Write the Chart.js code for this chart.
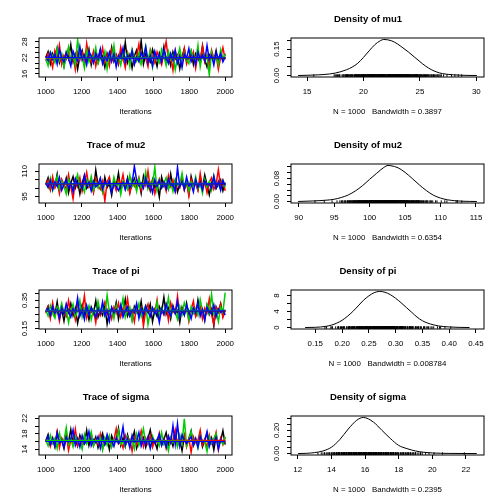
<!DOCTYPE html>
<html><head><meta charset="utf-8">
<script src="https://cdn.jsdelivr.net/npm/chart.js@4.4.0/dist/chart.umd.min.js"></script>
<style>
html,body{margin:0;padding:0;background:#fff;width:504px;height:504px;overflow:hidden}
canvas{position:absolute}
</style></head><body>
<script>
// ---------- data ----------
const iterStart = 1000, iterEnd = 2000;
const traceXTicks = [1000, 1200, 1400, 1600, 1800, 2000];
const traceXLabels = ['1000', '1200', '1400', '1600', '1800', '2000'];

const mu1_black = [22.1,24.3,19.8,23.5,21.0,25.6,20.2,22.8,18.9,24.1, 21.7,26.9,20.5,23.2,17.8,22.6,24.8,20.9,21.3,25.2, 19.4,23.9,21.8,20.1,24.6,22.3,18.5,23.7,21.2,25.9, 20.7,22.9,19.6,24.4,21.5,27.8,20.3,23.1,18.2,22.7, 24.9,21.1,28.4,19.7,23.4,21.9,20.4,25.1,22.2,18.8, 23.8,21.4,26.2,20.6,22.5,19.2,24.2,21.6,23.0,17.9, 22.4,25.4,20.8,21.9,24.5,19.5,23.6,22.0,20.0,26.5, 21.3,18.6,23.3,22.6,20.9,24.7,19.9,22.8,21.1,23.5];
const mu1_red = [20.8,23.6,21.9,18.4,24.7,22.2,26.8,19.6,23.0,21.5, 25.3,20.0,22.7,17.6,24.0,21.2,23.8,19.3,27.4,22.5, 20.6,24.4,18.9,23.1,21.7,25.7,20.3,22.9,19.0,24.8, 21.4,23.3,20.2,26.0,22.1,18.3,23.9,21.0,24.5,19.8, 22.6,27.1,20.5,23.4,21.8,18.7,25.0,22.3,20.1,24.2, 21.6,19.4,23.7,28.1,21.1,22.8,17.4,24.6,20.7,23.2, 21.3,25.5,19.7,22.4,20.9,24.1,18.1,23.5,21.5,26.3, 20.4,22.9,19.2,24.9,21.8,23.0,17.7,22.2,25.8,21.4];
const mu1_green = [21.5,19.0,24.2,22.8,20.3,25.4,21.1,23.6,18.6,22.4, 26.1,20.8,23.3,19.5,28.7,21.9,22.6,18.2,24.7,20.5, 23.0,21.7,25.8,19.9,22.2,20.6,24.3,17.9,23.5,21.3, 26.6,20.0,22.9,19.3,24.0,21.6,23.7,18.8,25.1,22.0, 20.7,23.9,19.6,22.5,26.4,21.0,24.6,18.5,23.2,21.8, 20.2,25.2,22.7,19.1,24.4,21.4,23.1,17.5,22.3,25.6, 20.4,23.8,21.2,19.8,24.8,22.1,20.9,26.7,18.7,23.4, 21.6,22.8,15.6,24.1,20.6,22.9,19.4,25.0,21.7,23.3];
const mu1_blue = [22.6,20.9,24.0,21.4,23.3,19.7,25.1,22.0,20.5,23.8, 21.7,18.9,24.5,22.3,20.8,26.2,21.2,23.1,19.4,24.3, 22.7,20.1,23.6,21.5,25.3,19.8,22.4,21.0,24.1,20.6, 23.5,18.6,22.9,21.8,25.7,20.3,23.0,21.3,24.6,19.5, 22.2,20.7,23.9,21.9,26.0,20.2,22.8,19.0,24.4,21.6, 23.2,20.4,25.0,22.1,19.9,23.7,21.1,24.8,20.0,22.5, 18.4,23.4,21.8,25.5,20.6,22.7,19.6,24.2,21.5,23.1, 20.8,26.6,21.3,22.9,19.3,24.0,21.7,23.6,20.5,22.3];
const mu1_smooth = {black:[22.1,22.0,22.2,22.0,21.9], red:[21.9,22.1,22.0,22.1,22.0], green:[22.0,21.9,22.1,22.0,22.1], blue:[22.2,22.0,21.9,22.1,22.0]};

const mu2_black = [102.4,106.1,99.3,104.8,101.0,108.2,98.6,103.5,100.7,105.9, 97.2,102.9,106.8,100.1,104.2,96.5,103.1,107.4,99.8,102.0, 105.3,98.1,110.6,101.6,103.9,97.9,106.4,100.4,102.7,95.8, 104.5,101.3,108.9,99.0,103.3,100.9,106.0,97.5,102.2,105.6, 99.6,104.0,96.9,107.1,101.8,103.7,98.4,105.1,100.2,102.6, 94.7,106.5,101.1,103.0,99.4,108.4,100.6,104.7,97.7,102.5, 105.8,99.1,103.6,96.2,106.9,101.4,102.8,98.8,104.3,100.0, 107.7,101.9,96.0,103.4,105.4,99.7,102.1,104.9,98.3,103.2];
const mu2_red = [101.7,104.6,98.9,106.7,100.3,103.8,96.8,105.2,102.0,99.5, 107.9,101.2,93.6,104.4,100.8,106.2,98.0,103.0,109.3,100.5, 102.3,97.3,105.7,101.5,99.2,104.1,92.3,103.6,106.6,100.0, 102.8,98.5,105.0,101.9,108.0,99.7,103.2,97.0,104.9,100.9, 102.5,106.3,98.7,103.9,101.3,110.1,99.9,104.3,96.6,102.1, 105.5,100.4,103.4,98.2,107.3,101.0,104.7,97.8,102.6,100.2, 106.8,99.0,103.7,95.4,105.3,101.6,102.9,98.6,108.6,100.7, 104.0,97.1,103.3,106.1,99.3,102.4,110.9,100.6,104.5,98.4];
const mu2_green = [103.0,100.2,105.8,98.4,102.7,107.0,99.5,104.1,101.1,96.4, 105.4,102.3,99.8,103.6,108.1,100.6,102.0,97.6,104.8,101.4, 106.9,98.9,103.4,100.0,105.2,97.4,102.8,101.7,104.5,99.1, 106.5,100.8,103.1,96.1,104.0,102.5,99.3,107.6,101.0,103.8, 98.0,105.6,100.3,102.2,109.5,99.6,103.5,101.8,112.4,98.6, 104.6,100.1,102.9,106.2,99.4,103.3,97.9,105.0,101.5,102.4, 108.7,100.4,104.2,98.2,103.7,101.2,106.7,99.7,102.6,96.9, 105.1,100.9,103.9,98.8,107.2,101.3,102.1,99.2,104.4,100.5];
const mu2_blue = [102.9,100.5,104.7,99.2,103.6,101.0,106.3,98.7,102.4,104.9, 100.0,103.1,97.8,105.5,101.6,102.8,99.6,107.5,101.2,103.4, 98.3,104.0,100.7,102.1,105.9,99.4,103.8,101.5,104.3,97.5, 102.6,100.9,98.5,101.8,103.2,99.0,105.0,100.3,102.7,113.0, 104.6,101.4,103.0,99.8,106.0,100.6,102.3,97.2,104.8,101.1, 104.4,100.1,103.5,99.5,105.3,101.7,102.0,98.1,112.2,100.8, 103.7,99.3,106.6,101.3,102.5,97.7,105.1,100.4,103.3,98.9, 104.1,101.9,102.2,99.9,107.0,100.2,103.9,98.6,104.5,101.5];
const mu2_smooth = {black:[102.6,102.5,102.7,102.6,102.5], red:[102.4,102.6,102.5,102.7,102.6], green:[102.7,102.6,102.5,102.6,102.7], blue:[102.5,102.6,102.6,102.5,102.6]};

const pi_black = [0.272,0.308,0.234,0.291,0.247,0.338,0.223,0.284,0.203,0.297, 0.262,0.327,0.241,0.293,0.188,0.269,0.318,0.254,0.281,0.212, 0.302,0.259,0.346,0.231,0.276,0.244,0.313,0.182,0.268,0.289, 0.253,0.334,0.217,0.301,0.263,0.357,0.238,0.279,0.214,0.306, 0.271,0.248,0.342,0.226,0.287,0.264,0.323,0.198,0.283,0.236, 0.304,0.267,0.371,0.252,0.294,0.219,0.311,0.257,0.278,0.193, 0.298,0.246,0.329,0.233,0.273,0.292,0.242,0.352,0.261,0.286, 0.208,0.314,0.249,0.288,0.171,0.303,0.266,0.326,0.239,0.282];
const pi_red = [0.258,0.303,0.221,0.332,0.246,0.284,0.204,0.309,0.272,0.237, 0.348,0.263,0.291,0.213,0.318,0.252,0.277,0.382,0.229,0.299, 0.264,0.273,0.192,0.312,0.243,0.288,0.337,0.254,0.281,0.218, 0.301,0.259,0.328,0.234,0.293,0.268,0.361,0.242,0.276,0.197, 0.311,0.251,0.296,0.168,0.274,0.322,0.238,0.287,0.262,0.353, 0.224,0.279,0.247,0.314,0.209,0.331,0.269,0.256,0.378,0.232, 0.289,0.253,0.304,0.201,0.283,0.343,0.236,0.271,0.307,0.219, 0.294,0.261,0.359,0.248,0.181,0.298,0.267,0.321,0.228,0.277];
const pi_green = [0.281,0.239,0.312,0.257,0.224,0.303,0.268,0.329,0.251,0.286, 0.193,0.277,0.322,0.236,0.272,0.347,0.232,0.294,0.258,0.309, 0.213,0.284,0.249,0.341,0.266,0.298,0.243,0.384,0.262,0.291, 0.221,0.313,0.254,0.273,0.362,0.228,0.279,0.302,0.204,0.288, 0.261,0.326,0.237,0.282,0.311,0.179,0.267,0.293,0.252,0.338, 0.233,0.297,0.259,0.276,0.368,0.241,0.287,0.269,0.216,0.308, 0.248,0.332,0.283,0.211,0.304,0.256,0.291,0.244,0.354,0.274, 0.227,0.316,0.263,0.392,0.253,0.278,0.199,0.301,0.268,0.403];
const pi_blue = [0.268,0.293,0.242,0.307,0.259,0.284,0.223,0.298,0.251,0.326, 0.274,0.231,0.289,0.262,0.366,0.238,0.281,0.214,0.312,0.247, 0.296,0.271,0.229,0.292,0.257,0.338,0.243,0.279,0.203,0.301, 0.263,0.287,0.254,0.318,0.232,0.276,0.304,0.239,0.283,0.261, 0.327,0.222,0.291,0.248,0.309,0.267,0.234,0.297,0.256,0.282, 0.194,0.288,0.252,0.323,0.269,0.241,0.302,0.258,0.343,0.228, 0.277,0.246,0.314,0.272,0.219,0.294,0.261,0.331,0.237,0.284, 0.212,0.299,0.266,0.253,0.317,0.233,0.289,0.264,0.279,0.245];
const pi_smooth = {black:[0.275,0.274,0.276,0.275,0.274], red:[0.273,0.275,0.274,0.276,0.275], green:[0.276,0.275,0.277,0.276,0.278], blue:[0.274,0.275,0.275,0.274,0.275]};

const sigma_black = [16.2,17.8,15.1,16.9,14.6,18.4,15.7,16.5,14.2,17.3, 15.9,19.1,15.3,16.7,14.8,17.6,16.0,15.4,18.9,14.9, 16.8,15.6,17.2,14.4,16.3,18.1,15.2,16.6,13.9,17.5, 15.8,16.1,19.4,15.0,16.9,14.7,17.7,15.5,16.4,18.6, 14.3,16.2,15.9,17.0,14.5,16.8,19.0,15.6,16.0,14.1, 17.4,15.3,16.5,18.3,15.1,16.7,14.8,17.9,15.7,16.3, 13.6,17.1,15.4,16.6,18.7,14.9,16.2,15.8,17.6,14.6, 16.4,18.2,15.0,16.9,13.8,17.3,15.5,16.1,18.8,15.2];
const sigma_red = [15.8,17.2,14.7,16.6,15.3,18.5,14.4,16.9,15.9,17.7, 13.7,16.3,15.5,19.2,15.0,16.7,14.6,17.4,15.7,16.1, 18.0,14.9,16.5,15.2,17.9,14.1,16.8,15.6,17.1,14.8, 16.4,19.3,15.4,16.0,14.3,17.6,15.9,16.6,13.5,17.0, 15.1,16.2,18.7,14.7,16.9,15.3,17.5,14.5,16.3,15.8, 18.2,15.0,16.7,14.2,17.3,15.6,16.4,19.0,14.9,16.1, 15.5,17.8,14.6,16.8,13.2,17.2,15.7,16.3,18.9,15.1, 16.6,14.4,17.7,15.4,16.0,18.4,13.9,16.9,15.2,17.1];
const sigma_green = [16.4,14.9,17.6,15.5,16.8,14.2,18.1,15.8,16.3,19.6, 15.2,16.7,14.6,17.3,15.9,16.1,14.0,17.8,15.4,16.6, 18.5,14.8,16.2,15.7,17.0,13.8,16.9,15.1,17.5,14.5, 16.4,15.9,18.8,15.3,16.0,14.7,17.2,15.6,16.5,14.1, 17.9,15.0,16.8,19.3,15.4,16.2,14.4,17.4,15.8,16.6, 14.9,18.3,15.2,16.1,13.6,17.1,15.7,16.9,14.6,17.7, 15.5,21.9,14.8,16.4,18.6,15.1,16.7,14.3,17.5,15.9, 16.0,13.4,17.3,15.6,16.8,18.0,14.7,16.3,15.3,17.2];
const sigma_blue = [16.0,17.4,15.2,16.7,14.8,18.2,15.6,16.3,14.5,17.1, 15.9,16.6,19.0,15.0,16.8,14.6,17.5,15.4,16.2,18.6, 14.9,16.5,15.7,17.3,14.3,16.9,15.3,17.8,15.8,16.1, 14.7,17.0,15.5,16.4,19.8,15.1,16.7,14.4,17.6,15.9, 16.0,18.3,14.8,16.6,15.2,17.2,14.2,16.8,15.6,16.3, 17.9,15.0,16.5,14.6,17.4,15.7,20.1,15.3,20.6,14.9, 17.7,16.2,15.5,16.4,17.2,15.1,16.8,14.5,17.3,15.8, 16.1,18.5,14.7,16.6,15.4,17.0,14.0,16.5,15.9,16.3];
const sigma_smooth = {black:[16.1,16.1,16.0,16.1,16.1], red:[16.0,16.1,16.2,16.3,16.3], green:[16.3,16.3,16.2,16.1,16.0], blue:[16.0,16.0,16.1,16.0,16.0]};

// density curves
const mu1_densX = [14.21,15,16,17,17.5,18,18.5,19,19.5,20,20.5,21,21.5,21.8,22.5,23,23.5,24,24.5,25,25.5,26,26.5,27,28,29,30.05];
const mu1_densY = [0.0003,0.0015,0.004,0.009,0.014,0.022,0.033,0.048,0.070,0.103,0.140,0.175,0.198,0.205,0.197,0.180,0.157,0.133,0.106,0.079,0.054,0.034,0.020,0.011,0.004,0.0012,0.0003];
const mu2_densX = [89.92,92,94,95,96,97,98,99,100,101,102,102.6,103,104,105,106,107,108,109,110,111,112,113,115.12];
const mu2_densY = [0.0003,0.002,0.005,0.008,0.014,0.023,0.037,0.055,0.077,0.098,0.118,0.125,0.124,0.117,0.101,0.080,0.058,0.038,0.022,0.012,0.006,0.003,0.0012,0.0002];
const pi_densX = [0.131,0.15,0.17,0.18,0.19,0.20,0.21,0.22,0.23,0.24,0.25,0.26,0.27,0.28,0.29,0.30,0.31,0.32,0.33,0.34,0.35,0.36,0.37,0.38,0.40,0.42,0.438];
const pi_densY = [0.01,0.06,0.3,0.6,1.1,1.8,2.8,4.0,5.4,6.8,7.9,8.7,9.0,8.8,8.2,7.3,6.2,5.0,3.8,2.6,1.7,1.1,0.7,0.4,0.15,0.04,0.01];
const sigma_densX = [12.02,12.5,13,13.5,14,14.5,15,15.5,15.9,16.5,17,17.5,18,18.5,19,19.5,20,21,22,22.64];
const sigma_densY = [0.0002,0.002,0.008,0.022,0.054,0.12,0.21,0.285,0.31,0.27,0.20,0.13,0.07,0.042,0.022,0.011,0.005,0.0012,0.0003,0.0001];

const bandwidths = {mu1:'0.3897', mu2:'0.6354', pi:'0.008784', sigma:'0.2395'};
const nIter = 1000;

// axis ticks
const mu1_traceY = {min:14.84, max:29.42, ticks:[16,18,20,22,24,26,28], labels:['16','','','22','','','28']};
const mu2_traceY = {min:91.1, max:114.3, ticks:[95,100,105,110], labels:['95','','','110']};
const pi_traceY = {min:0.147, max:0.422, ticks:[0.15,0.20,0.25,0.30,0.35,0.40], labels:['0.15','','','','0.35','']};
const sigma_traceY = {min:12.5, max:22.6, ticks:[14,16,18,20,22], labels:['14','','18','','22']};

const mu1_densAxX = {min:13.58, max:30.68, ticks:[15,20,25,30], labels:['15','20','25','30']};
const mu2_densAxX = {min:88.91, max:116.13, ticks:[90,95,100,105,110,115], labels:['90','95','100','105','110','115']};
const pi_densAxX = {min:0.1046, max:0.465, ticks:[0.15,0.20,0.25,0.30,0.35,0.40,0.45], labels:['0.15','0.20','0.25','0.30','0.35','0.40','0.45']};
const sigma_densAxX = {min:11.6, max:23.07, ticks:[12,14,16,18,20,22], labels:['12','14','16','18','20','22']};

const mu1_densAxY = {min:-0.0082, max:0.2132, ticks:[0,0.05,0.10,0.15,0.20], labels:['0.00','','','0.15','']};
const mu2_densAxY = {min:-0.005, max:0.130, ticks:[0,0.02,0.04,0.06,0.08,0.10,0.12], labels:['0.00','','','','0.08','','']};
const pi_densAxY = {min:-0.36, max:9.36, ticks:[0,2,4,6,8], labels:['0','','4','','8']};
const sigma_densAxY = {min:-0.0124, max:0.3224, ticks:[0,0.05,0.10,0.15,0.20,0.25,0.30], labels:['0.00','','','','0.20','','']};

// ---------- drawing ----------
const FONT = '"Liberation Sans", Arial, Helvetica, sans-serif';
const AX = 7.92, TT = 9.5;
const chainColors = {black:'#000000', red:'#FF0000', green:'#00CD00', blue:'#0000FF'};

function measure(t){const c=document.createElement('canvas').getContext('2d');c.font=AX+'px '+FONT;return c.measureText(t).width;}

const boxPlugin = {id:'rbox', afterDraw(chart){
  const {ctx, chartArea:a} = chart;
  ctx.save(); ctx.strokeStyle='#000'; ctx.lineWidth=1;
  ctx.strokeRect(a.left, a.top, a.right-a.left, a.bottom-a.top);
  ctx.restore();
}};

function makeChart(col, row, o){
  const cv = document.createElement('canvas');
  cv.width = 252; cv.height = 126;
  cv.style.left = (col*252)+'px'; cv.style.top = (row*126)+'px';
  document.body.appendChild(cv);
  const widest = Math.max(...o.y.labels.map(measure));
  new Chart(cv, {
    type:'line',
    data:{datasets:o.datasets},
    plugins:[boxPlugin],
    options:{
      responsive:false, animation:false, devicePixelRatio:1,
      layout:{padding:{left:0,right:20,top:0,bottom:0}},
      plugins:{legend:{display:false}, tooltip:{enabled:false},
        title:{display:true, text:o.title, color:'#000', font:{family:FONT,size:TT,weight:'bold',lineHeight:1.2}, padding:{top:13.3,bottom:13.3}}},
      scales:{
        x:{type:'linear', min:o.x.min, max:o.x.max,
          afterBuildTicks:s=>{s.ticks=o.x.ticks.map(v=>({value:v}));},
          afterFit:s=>{s.height=49;},
          ticks:{autoSkip:false, minRotation:0, maxRotation:0, padding:6, color:'#000', font:{family:FONT,size:AX}, callback:(v,i)=>o.x.labels[i]},
          grid:{drawOnChartArea:false, drawTicks:true, tickLength:4, color:'#000', lineWidth:1},
          border:{display:false},
          title:{display:true, text:o.xlab, color:'#000', font:{family:FONT,size:AX,lineHeight:1.2}, padding:{top:0,bottom:9.2}}
        },
        y:{type:'linear', min:o.y.min, max:o.y.max,
          afterBuildTicks:s=>{s.ticks=o.y.ticks.map(v=>({value:v}));},
          afterFit:s=>{s.width=39;},
          ticks:{autoSkip:false, minRotation:90, maxRotation:90, crossAlign:'center', padding:10-widest/2, color:'#000', font:{family:FONT,size:AX}, callback:(v,i)=>o.y.labels[i]},
          grid:{drawOnChartArea:false, drawTicks:true, tickLength:4, color:'#000', lineWidth:1},
          border:{display:false}
        }
      }
    }
  });
}

function traceDatasets(chains, smooth){
  const ds = [];
  const names = ['black','red','green','blue'];
  names.forEach((n,k)=>{
    const vals = chains[k];
    ds.push({data: vals.map((y,i)=>({x: iterStart + i*(iterEnd-iterStart)/(vals.length-1), y})),
      borderColor: chainColors[n], borderWidth:1.5, pointRadius:0, tension:0, order: 8-k});
  });
  names.forEach((n,k)=>{
    const vals = smooth[n];
    ds.push({data: vals.map((y,i)=>({x: iterStart + i*(iterEnd-iterStart)/(vals.length-1), y})),
      borderColor: chainColors[n], borderWidth:1.2, pointRadius:0, tension:0.4, order: 4-k});
  });
  return ds;
}

function densityDatasets(xs, ys, chains){
  const rug = [].concat(...chains).map(v=>({x:v, y:0}));
  return [
    {data: xs.map((x,i)=>({x, y:ys[i]})), borderColor:'#000', borderWidth:1, pointRadius:0, cubicInterpolationMode:'monotone', order:2},
    {data: rug, showLine:false, pointStyle:'line', rotation:90, pointRadius:1.2, borderColor:'#000', borderWidth:1, order:1}
  ];
}

const params = [
  {name:'mu1', chains:[mu1_black,mu1_red,mu1_green,mu1_blue], smooth:mu1_smooth, ty:mu1_traceY, dx:mu1_densX, dy:mu1_densY, dax:mu1_densAxX, day:mu1_densAxY},
  {name:'mu2', chains:[mu2_black,mu2_red,mu2_green,mu2_blue], smooth:mu2_smooth, ty:mu2_traceY, dx:mu2_densX, dy:mu2_densY, dax:mu2_densAxX, day:mu2_densAxY},
  {name:'pi', chains:[pi_black,pi_red,pi_green,pi_blue], smooth:pi_smooth, ty:pi_traceY, dx:pi_densX, dy:pi_densY, dax:pi_densAxX, day:pi_densAxY},
  {name:'sigma', chains:[sigma_black,sigma_red,sigma_green,sigma_blue], smooth:sigma_smooth, ty:sigma_traceY, dx:sigma_densX, dy:sigma_densY, dax:sigma_densAxX, day:sigma_densAxY}
];

params.forEach((p,row)=>{
  makeChart(0, row, {title:'Trace of '+p.name, xlab:'Iterations',
    x:{min:962, max:2038, ticks:traceXTicks, labels:traceXLabels}, y:p.ty,
    datasets: traceDatasets(p.chains, p.smooth)});
  makeChart(1, row, {title:'Density of '+p.name, xlab:'N = '+nIter+'   Bandwidth = '+bandwidths[p.name],
    x:p.dax, y:p.day, datasets: densityDatasets(p.dx, p.dy, p.chains)});
});
</script>
</body></html>
